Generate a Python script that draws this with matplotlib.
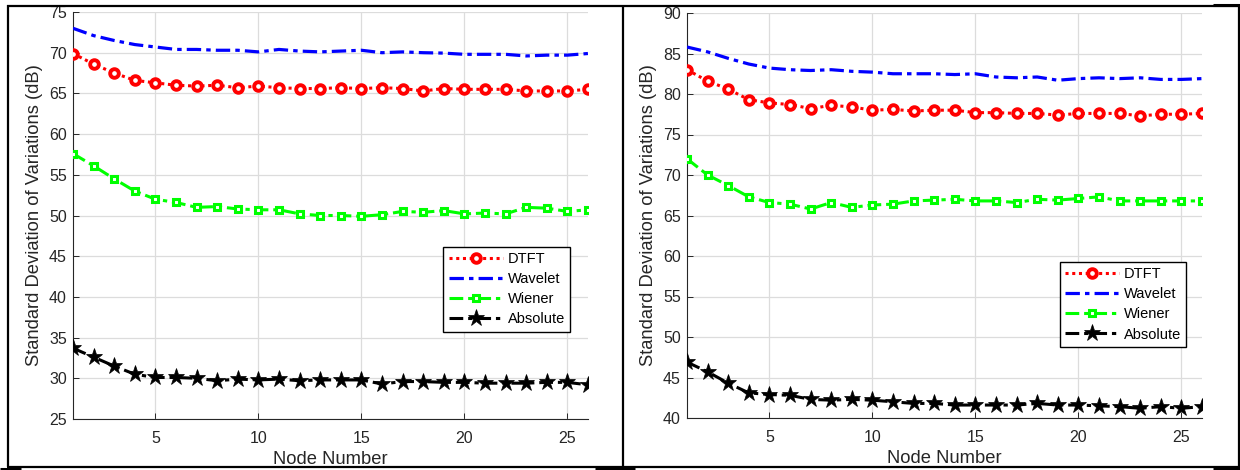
import matplotlib
matplotlib.use("Agg")
import matplotlib.pyplot as plt
from matplotlib.lines import Line2D
import numpy as np

plt.rcParams['font.family'] = ['Liberation Sans', 'DejaVu Sans']

nodes = list(range(1, 27))

# Left panel
left_dtft = [69.9, 68.6, 67.5, 66.6, 66.3, 66.0, 65.9, 66.0, 65.7, 65.9, 65.7, 65.6, 65.6,
             65.7, 65.6, 65.7, 65.6, 65.3, 65.6, 65.5, 65.5, 65.5, 65.3, 65.3, 65.3, 65.5]
left_wavelet = [73.0, 72.1, 71.5, 71.0, 70.7, 70.4, 70.4, 70.3, 70.3, 70.1, 70.4, 70.2, 70.1,
                70.2, 70.3, 70.0, 70.1, 70.0, 69.95, 69.8, 69.8, 69.8, 69.6, 69.7, 69.7, 69.9]
left_wiener = [57.6, 56.1, 54.5, 53.0, 52.0, 51.6, 51.0, 51.1, 50.8, 50.7, 50.7, 50.2, 50.0,
               50.0, 49.9, 50.1, 50.5, 50.4, 50.6, 50.2, 50.3, 50.2, 51.0, 50.9, 50.5, 50.7]
left_absolute = [33.7, 32.6, 31.5, 30.5, 30.1, 30.1, 30.0, 29.7, 29.9, 29.8, 29.9, 29.7, 29.8,
                 29.8, 29.8, 29.3, 29.6, 29.6, 29.5, 29.5, 29.4, 29.4, 29.4, 29.5, 29.5, 29.2]

# Right panel
right_dtft = [83.0, 81.6, 80.6, 79.3, 78.9, 78.7, 78.2, 78.6, 78.4, 78.0, 78.1, 77.9, 78.0,
              78.0, 77.7, 77.7, 77.6, 77.6, 77.4, 77.6, 77.6, 77.6, 77.3, 77.5, 77.5, 77.6]
right_wavelet = [85.8, 85.2, 84.4, 83.7, 83.2, 83.0, 82.9, 83.0, 82.8, 82.7, 82.5, 82.5, 82.5,
                 82.4, 82.5, 82.1, 82.0, 82.1, 81.7, 81.9, 82.0, 81.9, 82.0, 81.8, 81.8, 81.9]
right_wiener = [72.0, 70.0, 68.7, 67.3, 66.6, 66.4, 65.8, 66.6, 66.0, 66.3, 66.4, 66.8, 66.9,
                67.0, 66.8, 66.8, 66.6, 67.0, 66.9, 67.1, 67.3, 66.8, 66.8, 66.8, 66.8, 66.8]
right_absolute = [46.9, 45.7, 44.3, 43.1, 42.9, 42.8, 42.3, 42.2, 42.3, 42.2, 42.0, 41.8, 41.8,
                  41.6, 41.6, 41.6, 41.6, 41.8, 41.6, 41.6, 41.5, 41.4, 41.2, 41.4, 41.2, 41.4]

series_names = ['DTFT', 'Wavelet', 'Wiener', 'Absolute']
x_ticks = [5, 10, 15, 20, 25]
left_yticks = list(range(25, 80, 5))
right_yticks = list(range(40, 95, 5))
xlabel_text = 'Node Number'
ylabel_text = 'Standard Deviation of Variations (dB)'

W, H = 1240, 470
fig = plt.figure(figsize=(W / 100, H / 100), dpi=100)
fig.patch.set_facecolor('white')

def px_rect(x0, y0, x1, y1):
    return [x0 / W, 1 - y1 / H, (x1 - x0) / W, (y1 - y0) / H]

ax1 = fig.add_axes(px_rect(73, 12, 588, 419))
ax2 = fig.add_axes(px_rect(687, 13, 1202, 418))

dashdot = (4.5, 1.6, 1.4, 1.6)
dotted = (1.0, 1.2)
text_col = '#262626'

def draw(ax, d, w, wi, a, yticks, legend_anchor):
    ax.plot(nodes, w, color=(0, 0, 1), lw=2.3, dashes=dashdot, label=series_names[1], zorder=3)
    ax.plot(nodes, d, color=(1, 0, 0), lw=2.2, dashes=dotted, marker='o', ms=6.2,
            mfc='white', mec=(1, 0, 0), mew=2.8, label=series_names[0], zorder=4)
    ax.plot(nodes, wi, color=(0, 1, 0), lw=2.2, dashes=dashdot, marker='s', ms=5.0,
            mfc='white', mec=(0, 1, 0), mew=2.2, label=series_names[2], zorder=4)
    ax.plot(nodes, a, color='black', lw=2.2, dashes=(4.5, 1.6, 1.4, 1.6), marker='*', ms=12.5,
            mfc='black', mec='black', mew=0.5, label=series_names[3], zorder=5)
    ax.set_xlim(1, 26)
    ax.set_ylim(yticks[0], yticks[-1])
    ax.set_xticks(x_ticks)
    ax.set_yticks(yticks)
    ax.grid(True, color='#dcdcdc', lw=0.9)
    ax.set_axisbelow(True)
    for s in ['top', 'right']:
        ax.spines[s].set_visible(False)
    for s in ['left', 'bottom']:
        ax.spines[s].set_color(text_col)
        ax.spines[s].set_linewidth(0.8)
    ax.tick_params(direction='in', length=4, width=0.7, colors=text_col, labelsize=11.5)
    ax.tick_params(axis='y', pad=4.5)
    ax.tick_params(axis='x', pad=8.5)
    ax.set_xlabel(xlabel_text, fontsize=13.2, color=text_col, labelpad=4)
    ax.set_ylabel(ylabel_text, fontsize=13.2, color=text_col, labelpad=4)
    handles, labels = ax.get_legend_handles_labels()
    order = [1, 0, 2, 3]
    leg = ax.legend([handles[i] for i in order], [labels[i] for i in order],
                    loc='upper right', bbox_to_anchor=legend_anchor, borderaxespad=0,
                    fontsize=10.5, handlelength=3.7, handletextpad=0.35, labelspacing=0.42,
                    borderpad=0.35, fancybox=False, framealpha=1, edgecolor='black',
                    markerscale=1.0)
    leg.get_frame().set_linewidth(1.0)

draw(ax1, left_dtft, left_wavelet, left_wiener, left_absolute, left_yticks, (0.965, 0.4226))
draw(ax2, right_dtft, right_wavelet, right_wiener, right_absolute, right_yticks, (0.969, 0.385))

# table border lines around the figure panels
def fig_line(xs, ys, lw=1.6):
    fig.add_artist(Line2D([x / W for x in xs], [1 - y / H for y in ys],
                          color='black', lw=lw, solid_capstyle='butt'))

fig_line([7, 1240], [5.5, 5.5])
fig_line([7, 1240], [467, 467])
fig_line([7.5, 7.5], [5, 467])
fig_line([622.5, 622.5], [5, 467])
fig_line([1238.5, 1238.5], [5, 467])
fig_line([1213, 1240], [4.5, 4.5], lw=2.2)
fig_line([1213, 1240], [468, 468], lw=2.2)
fig_line([595, 635], [468.5, 468.5], lw=2.2)
fig_line([0, 21], [468.5, 468.5], lw=2.2)

fig.savefig('out.png', dpi=100, facecolor='white')
